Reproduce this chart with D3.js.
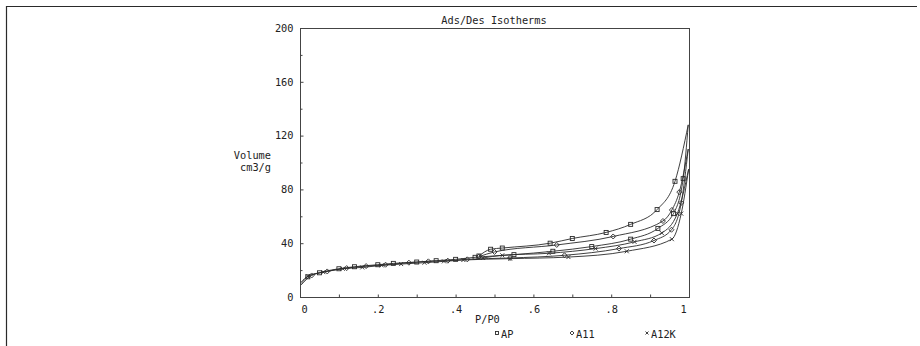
<!DOCTYPE html>
<meta charset="utf-8">
<style>
body { margin: 0; background: #fff; }
svg { display: block; }
text { font-family: "DejaVu Sans Mono", monospace; font-size: 10.3px; fill: #222; }
</style>
<body>
<svg width="920" height="346"></svg>
<script src="https://d3js.org/d3.v7.min.js"></script>
<script>

// --- data (relative pressure P/P0 vs volume cm3/g) ---
var apAdsP   = [0.003, 0.02, 0.05, 0.1, 0.14, 0.2, 0.24, 0.3, 0.35, 0.4, 0.45, 0.55, 0.65, 0.75, 0.85, 0.92, 0.96, 0.985, 0.998];
var apAdsV   = [10, 15, 18, 21, 22.5, 24, 25, 26, 27, 28, 29.5, 31.5, 34, 37.5, 43, 51, 62, 88, 128];
var apDesP   = [0.46, 0.49, 0.52, 0.643, 0.7, 0.787, 0.85, 0.918, 0.964, 0.998];
var apDesV   = [30.5, 35.5, 36.4, 40, 43.5, 48, 54, 65, 86, 128];

var a11AdsP  = [0.003, 0.03, 0.07, 0.12, 0.17, 0.22, 0.28, 0.33, 0.38, 0.43, 0.54, 0.68, 0.82, 0.91, 0.955, 0.98, 0.998];
var a11AdsV  = [9, 16, 19, 21.5, 23, 24, 25.5, 26.5, 27, 28, 29, 31, 36, 42, 50, 70, 110];
var a11DesP  = [0.46, 0.5, 0.66, 0.805, 0.933, 0.956, 0.975, 0.998];
var a11DesV  = [30, 33.5, 38.7, 45, 56.5, 64.7, 78, 110];

var a12kAdsP = [0.003, 0.02, 0.06, 0.11, 0.16, 0.21, 0.26, 0.32, 0.37, 0.42, 0.54, 0.69, 0.84, 0.956, 0.98, 0.999];
var a12kAdsV = [11, 15.5, 18.5, 21, 22, 23.5, 24.5, 25.5, 26.5, 27.5, 28.5, 29.7, 34, 43, 62, 95];
var a12kDesP = [0.47, 0.52, 0.64, 0.76, 0.86, 0.93, 0.97, 0.999];
var a12kDesV = [29, 31, 32.5, 36, 41, 47.6, 62, 95];

var seriesNames = ["AP", "A11", "A12K"];
var xTicks = [0, 0.2, 0.4, 0.6, 0.8, 1];
var yTicks = [0, 40, 80, 120, 160, 200];

var svg = d3.select("svg");
var ink = "#2a2a2a";

var x = d3.scaleLinear().domain([0, 1]).range([300, 689]);
var y = d3.scaleLinear().domain([0, 200]).range([297, 28]);

// outer frame (only left and top edges show)
svg.append("path")
    .attr("d", "M6.5,346V6.5H917")
    .attr("fill", "none").attr("stroke", ink).attr("stroke-width", 1.2);

// plot box
svg.append("rect")
    .attr("x", x(0) + 0.5).attr("y", y(200) + 0.5)
    .attr("width", x(1) - x(0)).attr("height", y(0) - y(200))
    .attr("fill", "none").attr("stroke", "#444").attr("stroke-width", 1);

// y axis
var yAxis = svg.append("g").attr("transform", "translate(" + (x(0) + 0.5) + ",0)")
    .call(d3.axisLeft(y).tickValues(yTicks).tickSize(-3).tickPadding(7).tickFormat(d3.format("d")));
var yMinor = svg.append("g").attr("transform", "translate(" + (x(0) + 0.5) + ",0)")
    .call(d3.axisLeft(y).tickValues([20, 60, 100, 140, 180]).tickSize(-2).tickFormat(""));

// x axis
var xAxis = svg.append("g").attr("transform", "translate(0," + (y(0) + 0.5) + ")")
    .call(d3.axisBottom(x).tickValues(xTicks).tickSize(-3).tickPadding(8)
      .tickFormat(function(d) { return d == 0 ? "0" : d == 1 ? "1" : d3.format(".1f")(d).replace(/^0/, ""); }));
var xMinor = svg.append("g").attr("transform", "translate(0," + (y(0) + 0.5) + ")")
    .call(d3.axisBottom(x).tickValues([0.1, 0.3, 0.5, 0.7, 0.9]).tickSize(-3).tickFormat(""));

svg.selectAll(".domain").remove();
svg.selectAll(".tick line").attr("stroke", "#444");
svg.selectAll(".tick text").attr("fill", ink).style("font-family", "DejaVu Sans Mono, monospace").style("font-size", "10.3px");
xAxis.selectAll(".tick text").attr("dx", function(d) { return d == 0 ? 4 : d == 1 ? -6 : 0; });

// titles
svg.append("text").attr("x", 494).attr("y", 24).attr("text-anchor", "middle").text("Ads/Des Isotherms");
svg.append("text").attr("x", 271).attr("y", 159).attr("text-anchor", "end").text("Volume");
svg.append("text").attr("x", 271).attr("y", 171).attr("text-anchor", "end").text("cm3/g");
svg.append("text").attr("x", 475).attr("y", 323).text("P/P0");

// markers
function marker(g, kind, cx, cy, s) {
  if (kind == 0) {
    g.append("rect").attr("x", cx - s).attr("y", cy - s).attr("width", 2 * s).attr("height", 2 * s)
      .attr("fill", "none").attr("stroke", ink).attr("stroke-width", 0.9);
  } else if (kind == 1) {
    g.append("path").attr("d", "M" + cx + "," + (cy - s - 0.5) + "L" + (cx + s + 0.5) + "," + cy + "L" + cx + "," + (cy + s + 0.5) + "L" + (cx - s - 0.5) + "," + cy + "Z")
      .attr("fill", "none").attr("stroke", ink).attr("stroke-width", 0.9);
  } else {
    g.append("path").attr("d", "M" + (cx - s) + "," + (cy - s) + "L" + (cx + s) + "," + (cy + s) + "M" + (cx + s) + "," + (cy - s) + "L" + (cx - s) + "," + (cy + s))
      .attr("fill", "none").attr("stroke", ink).attr("stroke-width", 0.9);
  }
}

var branches = [
  { kind: 0, p: apAdsP,   v: apAdsV },
  { kind: 0, p: apDesP,   v: apDesV },
  { kind: 1, p: a11AdsP,  v: a11AdsV },
  { kind: 1, p: a11DesP,  v: a11DesV },
  { kind: 2, p: a12kAdsP, v: a12kAdsV },
  { kind: 2, p: a12kDesP, v: a12kDesV }
];

var line = d3.line()
    .x(function(d) { return x(d[0]); })
    .y(function(d) { return y(d[1]); })
    .curve(d3.curveMonotoneX);

branches.forEach(function(b) {
  var pts = b.p.map(function(p, i) { return [p, b.v[i]]; });
  svg.append("path").datum(pts)
    .attr("d", line)
    .attr("fill", "none").attr("stroke", ink).attr("stroke-width", 0.9);
  var g = svg.append("g");
  pts.forEach(function(d) {
    if (d[0] > 0.01 && d[0] < 0.99) marker(g, b.kind, x(d[0]), y(d[1]), 2);
  });
});

// legend
var legendX = [497, 572, 647];
seriesNames.forEach(function(name, i) {
  var g = svg.append("g");
  marker(g, i, legendX[i], 333, 1.5);
  svg.append("text").attr("x", legendX[i] + 4).attr("y", 338).text(name);
});

</script>
</body>
